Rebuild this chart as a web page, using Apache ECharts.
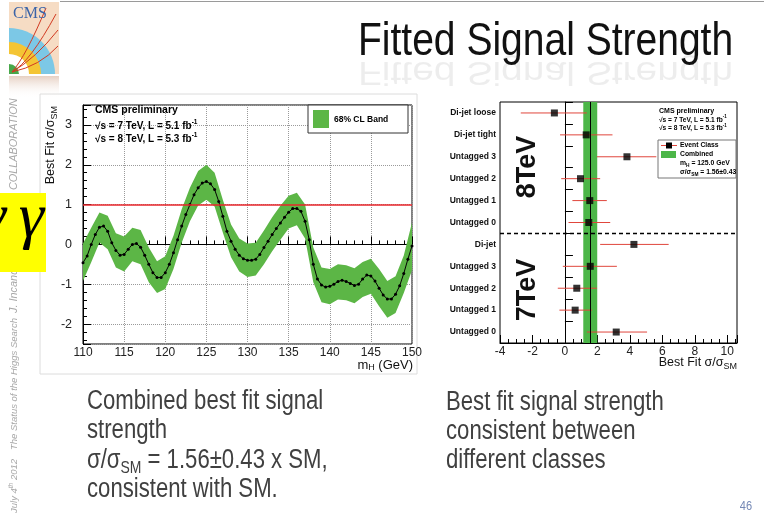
<!DOCTYPE html>
<html><head><meta charset="utf-8">
<script src="https://cdn.jsdelivr.net/npm/echarts@6/dist/echarts.min.js"></script>
<style>html,body{margin:0;padding:0;background:#fff;}#c{width:764px;height:519px;}</style>
</head><body><div id="c"></div>
<script>
// ---------- data: left chart (best fit signal strength vs mH) ----------
const massPoints = [110,110.5,111,111.5,112,112.5,113,113.5,114,114.5,115,115.5,116,116.5,117,117.5,118,118.5,119,119.5,120,120.5,121,121.5,122,122.5,123,123.5,124,124.5,125,125.5,126,126.5,127,127.5,128,128.5,129,129.5,130,130.5,131,131.5,132,132.5,133,133.5,134,134.5,135,135.5,136,136.5,137,137.5,138,138.5,139,139.5,140,140.5,141,141.5,142,142.5,143,143.5,144,144.5,145,145.5,146,146.5,147,147.5,148,148.5,149,149.5,150];
const fitSignal = [-0.46,-0.29,0.0,0.25,0.43,0.46,0.33,0.04,-0.15,-0.27,
  -0.25,-0.12,0.0,0.02,-0.07,-0.27,-0.5,-0.71,-0.83,-0.83,
  -0.71,-0.5,-0.21,0.12,0.46,0.75,1.0,1.25,1.42,1.54,
  1.58,1.52,1.38,1.08,0.71,0.33,0.08,-0.12,-0.27,-0.36,
  -0.4,-0.4,-0.37,-0.25,-0.08,0.08,0.25,0.4,0.54,0.68,
  0.81,0.9,0.9,0.83,0.58,0.12,-0.5,-0.87,-1.02,-1.07,
  -1.05,-1.0,-0.93,-0.9,-0.93,-0.98,-1.03,-1.0,-0.87,-0.77,
  -0.79,-0.92,-1.1,-1.27,-1.37,-1.37,-1.25,-1.04,-0.73,-0.37,-0.04];
const bandMass  = [110,111,112,113,114,115,116,117,118,119,120,121,122,123,124,125,126,127,128,129,130,131,132,133,134,135,136,137,138,139,140,141,142,143,144,145,146,147,148,149,150];
const bandUpper = [0.02,0.42,0.8,0.72,0.28,0.2,0.42,0.36,-0.08,-0.42,-0.3,0.22,0.88,1.42,1.84,2.0,1.8,1.12,0.5,0.15,0.02,0.04,0.35,0.68,0.97,1.22,1.3,1.0,-0.08,-0.58,-0.62,-0.5,-0.52,-0.6,-0.44,-0.36,-0.62,-0.92,-0.8,-0.28,0.55];
const bandLower = [-0.92,-0.45,0.05,-0.12,-0.58,-0.68,-0.42,-0.5,-0.95,-1.22,-1.12,-0.62,0.04,0.58,0.98,1.12,0.95,0.3,-0.32,-0.68,-0.82,-0.78,-0.5,-0.17,0.12,0.4,0.48,0.15,-0.95,-1.45,-1.5,-1.38,-1.4,-1.48,-1.32,-1.24,-1.55,-1.84,-1.72,-1.22,-0.65];
const smReference = 1;

// ---------- data: right chart (per event class) ----------
const classNames   = ['Di-jet loose','Di-jet tight','Untagged 3','Untagged 2','Untagged 1','Untagged 0','Di-jet','Untagged 3','Untagged 2','Untagged 1','Untagged 0'];
const classValues  = [-0.65,1.31,3.82,0.96,1.53,1.47,4.25,1.56,0.73,0.63,3.16];
const classErrLow  = [-2.72,-0.3,1.97,-0.23,0.46,0.22,2.17,-0.13,-0.44,-0.34,1.35];
const classErrHigh = [1.35,2.93,5.63,2.17,2.58,2.79,6.39,3.2,1.97,1.66,5.06];
const combinedMu = 1.56;
const combinedErr = 0.43;
const energySplitIndex = 5; // last 8 TeV row

// ---------- helpers ----------
const FONT = "'Liberation Sans', Arial, sans-serif";
const SERIF = "'Liberation Serif', 'DejaVu Serif', serif";
const mctx = document.createElement('canvas').getContext('2d');
function fontStr(size, w, it, fam){ return (it||'normal')+' '+(w||'normal')+' '+size+'px '+(fam||FONT); }
function tw(t, size, w, it, fam){ mctx.font = fontStr(size,w,it,fam); return mctx.measureText(t).width; }
function rich(x, y, segs, o){
  o = o || {};
  const z = o.z || 50;
  const widths = segs.map(s => tw(s.t, s.s, s.w||o.w, s.i||o.i, o.fam));
  const total = widths.reduce((a,b)=>a+b,0);
  let cx = o.align==='right' ? -total : (o.align==='center' ? -total/2 : 0);
  const children = segs.map((s,k) => {
    const el = {type:'text', x: cx, y: s.dy||0, z:z, silent:true,
      style:{text:s.t, fill:s.c||o.c||'#000', font:fontStr(s.s, s.w||o.w, s.i||o.i, o.fam), align:'left', verticalAlign:'middle'}};
    cx += widths[k];
    return el;
  });
  return {type:'group', x:x, y:y, rotation:o.rot||0, scaleX:o.sx||1, scaleY:o.sy||1, z:z, silent:true, children:children};
}

const chart = echarts.init(document.getElementById('c'), null, {renderer:'canvas'});

const graphics = [];
// top rule
graphics.push({type:'line', z:1, shape:{x1:60,y1:1.5,x2:764,y2:1.5}, style:{stroke:'#9a9a9a', lineWidth:1}});
// CMS logo (approximation)
graphics.push({type:'group', x:0, y:0, z:1, children:[
  {type:'rect', z:1, shape:{x:9,y:2,width:50,height:72}, style:{fill:'#f6dcc4'}},
  {type:'sector', z:1, shape:{cx:9,cy:74,r0:0,r:46,startAngle:-Math.PI/2,endAngle:0}, style:{fill:'#7cc8e6'}},
  {type:'sector', z:1, shape:{cx:9,cy:74,r0:0,r:32,startAngle:-Math.PI/2,endAngle:0}, style:{fill:'#f4c534'}},
  {type:'sector', z:1, shape:{cx:9,cy:74,r0:0,r:20,startAngle:-Math.PI/2,endAngle:0}, style:{fill:'#ffffff'}},
  {type:'sector', z:1, shape:{cx:9,cy:74,r0:0,r:10,startAngle:-Math.PI/2,endAngle:0}, style:{fill:'#48a84a'}},
  {type:'bezierCurve', z:1, shape:{x1:12,y1:72,cpx1:30,cpy1:62,x2:56,y2:14}, style:{stroke:'#d23a22',lineWidth:1,fill:null}},
  {type:'bezierCurve', z:1, shape:{x1:12,y1:72,cpx1:36,cpy1:58,x2:58,y2:30}, style:{stroke:'#d23a22',lineWidth:1,fill:null}},
  {type:'bezierCurve', z:1, shape:{x1:12,y1:72,cpx1:26,cpy1:56,x2:46,y2:8}, style:{stroke:'#d23a22',lineWidth:1,fill:null}},
  {type:'bezierCurve', z:1, shape:{x1:12,y1:72,cpx1:40,cpy1:66,x2:58,y2:46}, style:{stroke:'#d23a22',lineWidth:1,fill:null}},
  {type:'text', z:1, x:13, y:14, style:{text:'CMS', font:'normal normal 16px '+SERIF, fill:'#3b64a8', align:'left', verticalAlign:'middle'}},
  {type:'rect', z:1, shape:{x:9,y:76,width:50,height:22}, style:{fill:new echarts.graphic.LinearGradient(0,0,0,1,[{offset:0,color:'rgba(200,150,120,0.45)'},{offset:1,color:'rgba(255,255,255,0)'}])}}
]});
// title + faint reflection
graphics.push(rich(358, 42, [{t:'Fitted Signal Strength', s:47}], {sx:0.83, c:'#111'}));
graphics.push(rich(358, 71, [{t:'Fitted Signal Strength', s:47}], {sx:0.83, sy:-0.7, c:'rgba(0,0,0,0.07)', z:2}));
// vertical footer text on the left
graphics.push(rich(14, 513, [{t:'July 4', s:9.5},{t:'th', s:6.5, dy:-3},{t:' 2012', s:9.5}], {rot:Math.PI/2, i:'italic', c:'#a8a8a8', z:5}));
graphics.push(rich(14, 450, [{t:'The Status of the Higgs Search', s:9.5}], {rot:Math.PI/2, i:'italic', c:'#a8a8a8', z:5}));
graphics.push(rich(14, 313, [{t:'J. Incandela for the CMS COLLABORATION', s:10.9}], {rot:Math.PI/2, i:'italic', c:'#a8a8a8', z:5}));
// yellow box
graphics.push({type:'rect', z:10, shape:{x:0,y:193,width:46,height:79}, style:{fill:'#ffff00'}});
graphics.push({type:'text', z:11, x:44, y:219, style:{text:'\u03b3', font:'italic normal 64px '+SERIF, fill:'#000', align:'right', verticalAlign:'middle'}});
graphics.push({type:'text', z:11, x:6, y:219, style:{text:'\u03b3', font:'italic normal 64px '+SERIF, fill:'#000', align:'right', verticalAlign:'middle'}});
// left chart faint panel border
graphics.push({type:'rect', z:0, shape:{x:40,y:94,width:377,height:280}, style:{fill:'none', stroke:'#dcdcdc', lineWidth:1}});
// left chart axis titles
graphics.push(rich(51, 106, [{t:'Best Fit \u03c3/\u03c3', s:12.5},{t:'SM', s:9, dy:4}], {rot:Math.PI/2, align:'right', c:'#111'}));
graphics.push(rich(413, 365, [{t:'m', s:13},{t:'H', s:9, dy:3},{t:' (GeV)', s:13}], {align:'right', c:'#111'}));
// left chart annotations
graphics.push(rich(95, 110, [{t:'CMS preliminary', s:10.5}], {w:'bold'}));
graphics.push(rich(95, 126.5, [{t:'\u221as = 7 TeV, L = 5.1 fb', s:10},{t:'-1', s:6.5, dy:-4}], {w:'bold'}));
graphics.push(rich(95, 139.5, [{t:'\u221as = 8 TeV, L = 5.3 fb', s:10},{t:'-1', s:6.5, dy:-4}], {w:'bold'}));
// left legend
graphics.push({type:'rect', z:50, shape:{x:308,y:105,width:100,height:28}, style:{fill:'#fff', stroke:'#333', lineWidth:1}});
graphics.push({type:'rect', z:51, shape:{x:313,y:110,width:16,height:18}, style:{fill:'#5cb646'}});
graphics.push(rich(334, 120, [{t:'68% CL Band', s:8.5}], {w:'bold', z:52}));
// right chart big labels
graphics.push(rich(528, 167, [{t:'8TeV', s:27}], {rot:Math.PI/2, align:'center', w:'bold', c:'#111'}));
graphics.push(rich(528, 290, [{t:'7TeV', s:27}], {rot:Math.PI/2, align:'center', w:'bold', c:'#111'}));
// right chart annotations
graphics.push(rich(659, 111, [{t:'CMS preliminary', s:7}], {w:'bold'}));
graphics.push(rich(659, 120, [{t:'\u221as = 7 TeV, L = 5.1 fb', s:6.6},{t:'-1', s:4.5, dy:-3}], {w:'bold'}));
graphics.push(rich(659, 128.5, [{t:'\u221as = 8 TeV, L = 5.3 fb', s:6.6},{t:'-1', s:4.5, dy:-3}], {w:'bold'}));
graphics.push({type:'rect', z:50, shape:{x:658,y:140,width:78,height:38}, style:{fill:'#fff', stroke:'#777', lineWidth:1}});
graphics.push({type:'line', z:51, shape:{x1:661,y1:145.5,x2:677,y2:145.5}, style:{stroke:'#e0463c', lineWidth:1}});
graphics.push({type:'rect', z:52, shape:{x:666,y:142.5,width:6,height:6}, style:{fill:'#000'}});
graphics.push({type:'rect', z:51, shape:{x:661,y:151,width:15,height:7}, style:{fill:'#4cb648'}});
graphics.push(rich(680, 145.5, [{t:'Event Class', s:6.8}], {w:'bold', z:53}));
graphics.push(rich(680, 154.5, [{t:'Combined', s:6.8}], {w:'bold', z:53}));
graphics.push(rich(680, 163.5, [{t:'m', s:6.8},{t:'H', s:4.8, dy:2},{t:' = 125.0 GeV', s:6.8}], {w:'bold', z:53}));
graphics.push(rich(680, 172.5, [{t:'\u03c3/\u03c3', s:6.8},{t:'SM', s:4.8, dy:2},{t:' = 1.56\u00b10.43', s:6.8}], {w:'bold', z:53}));
graphics.push(rich(737, 362.5, [{t:'Best Fit \u03c3/\u03c3', s:12.5},{t:'SM', s:9, dy:4}], {align:'right', c:'#111'}));
// body text
const BODY = '#404040';
graphics.push(rich(87, 402, [{t:'Combined best fit signal', s:27}], {sx:0.82, c:BODY}));
graphics.push(rich(87, 431, [{t:'strength', s:27}], {sx:0.82, c:BODY}));
graphics.push(rich(87, 461, [{t:'\u03c3/\u03c3', s:27},{t:'SM', s:17, dy:7},{t:' = 1.56\u00b10.43 x SM,', s:27}], {sx:0.82, c:BODY}));
graphics.push(rich(87, 490, [{t:'consistent with SM.', s:27}], {sx:0.82, c:BODY}));
graphics.push(rich(446, 403, [{t:'Best fit signal strength', s:27}], {sx:0.82, c:BODY}));
graphics.push(rich(446, 432, [{t:'consistent between', s:27}], {sx:0.82, c:BODY}));
graphics.push(rich(446, 461, [{t:'different classes', s:27}], {sx:0.82, c:BODY}));
graphics.push(rich(746, 506, [{t:'46', s:13}], {align:'center', c:'#7488b5', sx:0.85}));

const intOnly = v => (Math.abs(v - Math.round(v)) < 1e-6 ? String(Math.round(v)) : '');
const tickStyle = {color:'#000', width:1};

const option = {
  animation:false,
  backgroundColor:'#fff',
  textStyle:{fontFamily:FONT},
  grid:[
    {left:83, top:105, width:329, height:239, show:true, borderColor:'#000', borderWidth:1, backgroundColor:'rgba(0,0,0,0)'},
    {left:500, top:102, width:237, height:241, show:true, borderColor:'#000', borderWidth:1, backgroundColor:'rgba(0,0,0,0)'}
  ],
  xAxis:[
    {gridIndex:0, type:'value', min:110, max:150, interval:5,
      axisLine:{show:true, lineStyle:{color:'#000'}},
      axisTick:{show:true, inside:true, length:8, lineStyle:tickStyle},
      minorTick:{show:true, splitNumber:5, length:4, lineStyle:tickStyle},
      splitLine:{show:true, lineStyle:{color:'#9a9a9a', type:'dotted', width:1}},
      axisLabel:{fontSize:12, color:'#222', margin:3, fontFamily:FONT}},
    {gridIndex:1, type:'value', min:-4, max:10.6, interval:2,
      axisLine:{show:true, lineStyle:{color:'#000'}},
      axisTick:{show:true, inside:true, length:8, lineStyle:tickStyle},
      minorTick:{show:true, splitNumber:4, length:4, lineStyle:tickStyle},
      splitLine:{show:false},
      axisLabel:{fontSize:12, color:'#222', margin:3, fontFamily:FONT, formatter:intOnly, showMaxLabel:false}}
  ],
  yAxis:[
    {gridIndex:0, type:'value', min:-2.5, max:3.5, splitNumber:6,
      axisLine:{show:true, lineStyle:{color:'#000'}},
      axisTick:{show:true, inside:true, length:8, lineStyle:tickStyle},
      minorTick:{show:true, splitNumber:5, length:4, lineStyle:tickStyle},
      splitLine:{show:true, lineStyle:{color:'#9a9a9a', type:'dotted', width:1}},
      axisLabel:{fontSize:12.5, color:'#222', margin:11, fontFamily:FONT, formatter:intOnly}},
    {gridIndex:1, type:'category', inverse:true, data:classNames,
      axisLine:{show:true, lineStyle:{color:'#000'}},
      axisTick:{show:true, inside:true, length:8, alignWithLabel:false, interval:0, lineStyle:tickStyle},
      splitLine:{show:false},
      axisLabel:{fontSize:8.5, fontWeight:'bold', color:'#111', margin:4, interval:0, fontFamily:FONT}}
  ],
  series:[
    {type:'custom', name:'band', xAxisIndex:0, yAxisIndex:0, z:1, silent:true, data:[[130,0]],
      renderItem:function(params, api){
        const pts = [];
        for (let i=0;i<bandMass.length;i++) pts.push(api.coord([bandMass[i], bandUpper[i]]));
        for (let i=bandMass.length-1;i>=0;i--) pts.push(api.coord([bandMass[i], bandLower[i]]));
        return {type:'polygon', shape:{points:pts}, style:{fill:'#5cb646'}};
      }},
    {type:'line', name:'fit', xAxisIndex:0, yAxisIndex:0, z:3, silent:true,
      data:massPoints.map((m,i)=>[m, fitSignal[i]]),
      symbol:'circle', symbolSize:3, showSymbol:true, showAllSymbol:true,
      itemStyle:{color:'#000'}, lineStyle:{color:'#000', width:1},
      markLine:{silent:true, symbol:'none', label:{show:false}, z:4,
        lineStyle:{color:'#e8262b', width:1.5, type:'solid'}, data:[{yAxis:smReference}]}},
    {type:'custom', name:'errors', xAxisIndex:1, yAxisIndex:1, z:2, silent:true,
      data:classNames.map((n,i)=>[classErrLow[i], i, classErrHigh[i]]),
      encode:{x:[0,2], y:1},
      renderItem:function(params, api){
        const p1 = api.coord([api.value(0), api.value(1)]);
        const p2 = api.coord([api.value(2), api.value(1)]);
        return {type:'line', shape:{x1:p1[0], y1:p1[1], x2:p2[0], y2:p2[1]}, style:{stroke:'#e0463c', lineWidth:1}};
      },
      markArea:{silent:true, z:1, itemStyle:{color:'#4cb648', opacity:1}, label:{show:false},
        data:[[{xAxis:combinedMu-combinedErr},{xAxis:combinedMu+combinedErr}]]},
      markLine:{silent:true, symbol:'none', label:{show:false}, z:3,
        lineStyle:{color:'#000', width:1, type:'solid'}, data:[{xAxis:combinedMu}]}},
    {type:'custom', name:'split', xAxisIndex:1, yAxisIndex:1, z:4, silent:true, data:[[0, energySplitIndex]],
      renderItem:function(params, api){
        const a = api.coord([0, api.value(1)]);
        const b = api.coord([0, api.value(1)+1]);
        const y = (a[1]+b[1])/2;
        const cs = params.coordSys;
        return {type:'line', shape:{x1:cs.x, y1:y, x2:cs.x+cs.width, y2:y}, style:{stroke:'#000', lineWidth:1.5, lineDash:[4,3]}};
      }},
    {type:'scatter', name:'classes', xAxisIndex:1, yAxisIndex:1, z:5, silent:true,
      data:classValues.map((v,i)=>[v,i]), symbol:'rect', symbolSize:7, itemStyle:{color:'#000'}}
  ],
  graphic:{elements:graphics}
};
chart.setOption(option);
</script>
</body></html>
